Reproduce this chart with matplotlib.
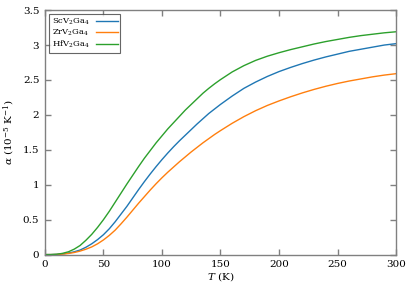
import matplotlib
matplotlib.use('Agg')
import matplotlib.pyplot as plt

# Temperature grid (K)
temps = [0, 5, 10, 15, 20, 25, 30, 35, 40, 45, 50, 55, 60, 65, 70, 75, 80,
         85, 90, 95, 100, 105, 110, 115, 120, 125, 130, 135, 140, 145, 150,
         160, 170, 180, 190, 200, 210, 220, 230, 240, 250, 260, 270, 280,
         290, 300]

# Thermal expansion coefficient (10^-5 K^-1)
sc_alpha = [0, 0.0003, 0.003, 0.01, 0.022, 0.04, 0.065, 0.105, 0.155, 0.215,
            0.285, 0.37, 0.47, 0.58, 0.69, 0.81, 0.93, 1.045, 1.155, 1.26,
            1.36, 1.455, 1.545, 1.63, 1.71, 1.79, 1.87, 1.945, 2.02, 2.085,
            2.15, 2.27, 2.38, 2.47, 2.55, 2.62, 2.68, 2.735, 2.785, 2.83,
            2.87, 2.91, 2.94, 2.97, 3.00, 3.02]
zr_alpha = [0, 0.0002, 0.002, 0.007, 0.016, 0.03, 0.05, 0.077, 0.11, 0.155,
            0.21, 0.275, 0.35, 0.44, 0.535, 0.635, 0.735, 0.83, 0.925, 1.015,
            1.10, 1.18, 1.255, 1.33, 1.40, 1.47, 1.535, 1.60, 1.66, 1.72,
            1.775, 1.88, 1.975, 2.06, 2.135, 2.20, 2.26, 2.315, 2.365, 2.41,
            2.45, 2.485, 2.515, 2.545, 2.57, 2.59]
hf_alpha = [0, 0.0005, 0.005, 0.018, 0.04, 0.078, 0.13, 0.205, 0.29, 0.39,
            0.50, 0.62, 0.75, 0.88, 1.01, 1.135, 1.26, 1.38, 1.49, 1.60,
            1.70, 1.80, 1.89, 1.98, 2.07, 2.15, 2.23, 2.31, 2.38, 2.445,
            2.505, 2.615, 2.705, 2.78, 2.84, 2.89, 2.935, 2.975, 3.015,
            3.05, 3.08, 3.11, 3.135, 3.155, 3.175, 3.19]

labels = [r'ScV$_2$Ga$_4$', r'ZrV$_2$Ga$_4$', r'HfV$_2$Ga$_4$']
colors = ['#1f77b4', '#ff7f0e', '#2ca02c']

plt.rcParams['font.family'] = 'DejaVu Serif'
plt.rcParams['mathtext.fontset'] = 'dejavuserif'

fig = plt.figure(figsize=(4.16, 2.89), dpi=100)
ax = fig.add_axes([0.108, 0.119, 0.844, 0.846])

for series, label, color in zip([sc_alpha, zr_alpha, hf_alpha], labels, colors):
    ax.plot(temps, series, color=color, lw=1.0, label=label)

ax.set_xlim(0, 300)
ax.set_ylim(0, 3.5)
ax.set_xticks([0, 50, 100, 150, 200, 250, 300])
ax.set_yticks([0, 0.5, 1, 1.5, 2, 2.5, 3, 3.5])
ax.set_yticklabels(['0', '0.5', '1', '1.5', '2', '2.5', '3', '3.5'])

# gnuplot-like frame: grey border, inward ticks on all sides
for spine in ax.spines.values():
    spine.set_color('#808080')
    spine.set_linewidth(1.0)
ax.tick_params(direction='in', length=4, width=1, color='#808080',
               top=True, right=True, labelsize=7.5, pad=4)

ax.set_xlabel(r'$T$ (K)', fontsize=7.5, labelpad=1)
ax.set_ylabel(r'$\alpha$ ($10^{-5}$ K$^{-1}$)', fontsize=7.5, labelpad=4)

leg = ax.legend(loc='upper left', fontsize=6, markerfirst=False,
                fancybox=False, handlelength=2.6, borderpad=0.3,
                labelspacing=0.12, borderaxespad=0.5, handletextpad=0.8)
leg.get_frame().set_edgecolor('#404040')
leg.get_frame().set_linewidth(0.8)

fig.savefig('out.png', dpi=100)
